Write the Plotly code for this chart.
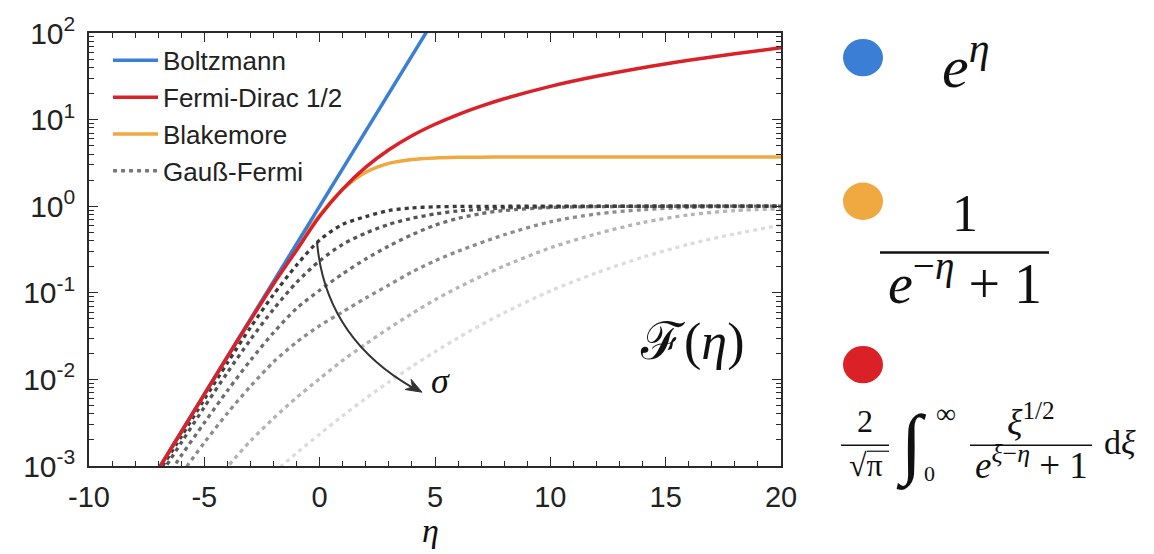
import plotly.graph_objects as go

# ---------------- data ----------------
eta_boltz = [-8, -6, -4, -2, 0, 2, 4, 5]
F_boltz = [0.000335, 0.00248, 0.0183, 0.135, 1.0, 7.39, 54.6, 148.4]

eta_fd = [-8, -7, -6, -5, -4, -3, -2, -1, 0, 1, 2, 3, 4, 5, 6, 7, 8, 10, 12, 14, 16, 18, 20]
F_fd = [0.000335, 0.000911, 0.00247, 0.00671, 0.0182, 0.0484, 0.1262, 0.3107, 0.765, 1.576,
        2.824, 4.488, 6.51, 8.84, 11.45, 14.3, 17.4, 24.2, 31.6, 39.7, 48.4, 57.7, 67.5]

eta_bk = [-8, -7, -6, -5, -4, -3, -2, -1, 0, 1, 2, 3, 4, 5, 6, 7, 8, 10, 12, 15, 20]
F_bk = [0.000335, 0.000911, 0.00248, 0.00674, 0.0183, 0.0493, 0.1315, 0.3435, 0.787, 1.567,
        2.466, 3.127, 3.469, 3.614, 3.667, 3.687, 3.697, 3.702, 3.704, 3.704, 3.704]

eta_gf1 = [-7, -6, -5, -4, -3, -2, -1, 0, 1, 2, 3, 4, 5, 6, 8, 10, 14, 20]
F_gf1 = [0.000832, 0.00219, 0.00589, 0.0155, 0.0398, 0.0955, 0.209, 0.407, 0.617, 0.759,
         0.891, 0.955, 0.984, 0.993, 0.998, 1.0, 1.0, 1.0]

eta_gf2 = [-7, -6, -5, -4, -3, -2, -1, 0, 1, 2, 3, 4, 5, 6, 8, 10, 12, 14, 20]
F_gf2 = [0.000724, 0.00186, 0.00479, 0.0120, 0.0288, 0.0646, 0.132, 0.234, 0.363, 0.490,
         0.617, 0.724, 0.813, 0.881, 0.955, 0.982, 0.993, 0.998, 1.0]

eta_gf3 = [-7, -6, -5, -4, -3, -2, -1, 0, 1, 2, 3, 4, 5, 6, 7, 8, 10, 12, 14, 16, 20]
F_gf3 = [0.000525, 0.00132, 0.00316, 0.00741, 0.0166, 0.0347, 0.0661, 0.107, 0.166, 0.246,
         0.347, 0.468, 0.603, 0.724, 0.822, 0.891, 0.966, 0.989, 0.995, 1.0, 1.0]

eta_gf4 = [-7, -6, -5, -4, -3, -2, -1, 0, 1, 2, 3, 4, 5, 6, 8, 10, 12, 14, 16, 18, 20]
F_gf4 = [0.000355, 0.000813, 0.00186, 0.00407, 0.00832, 0.0159, 0.0269, 0.0417, 0.0603, 0.0871,
         0.123, 0.174, 0.234, 0.302, 0.468, 0.661, 0.813, 0.912, 0.966, 0.989, 1.0]

eta_gf5 = [-5, -4, -3, -2, -1, 0, 1, 2, 3, 4, 5, 6, 7, 8, 10, 12, 14, 16, 18, 20]
F_gf5 = [0.000457, 0.000977, 0.00195, 0.00355, 0.00617, 0.0102, 0.0166, 0.0257, 0.0389, 0.0575,
         0.0832, 0.115, 0.155, 0.204, 0.331, 0.479, 0.646, 0.794, 0.891, 0.933]

eta_gf6 = [-3, -2, -1, 0, 1, 2, 3, 4, 5, 6, 7, 8, 10, 12, 14, 16, 18, 20]
F_gf6 = [0.000479, 0.000832, 0.00141, 0.00234, 0.00380, 0.00603, 0.00933, 0.0141, 0.0209, 0.0302,
         0.0427, 0.0589, 0.105, 0.170, 0.257, 0.363, 0.479, 0.603]

x_ticks = [-10, -5, 0, 5, 10, 15, 20]
y_ticks = [1e-3, 1e-2, 1e-1, 1e0, 1e1, 1e2]
y_ticktext = ["10<sup>-3</sup>", "10<sup>-2</sup>", "10<sup>-1</sup>",
              "10<sup>0</sup>", "10<sup>1</sup>", "10<sup>2</sup>"]
y_minor = [m * 10.0 ** e for e in range(-3, 2) for m in range(2, 10)]

# ---------------- styling ----------------
W, H = 1154, 554
L, R, T, B = 89, 781, 26, 466
BLUE, RED, ORANGE = "#3a7fd5", "#da2128", "#f0a940"
GRAYS = ["#3a3a3a", "#555555", "#6e6e6e", "#8c8c8c", "#b4b4b4", "#dcdcdc"]
AX = "#2a2a2a"
SANS = "Liberation Sans, Arial, sans-serif"
SERIF = "Liberation Serif, Times New Roman, serif"


def px(x):
    return (x - L) / (R - L)


def py(y):
    return (B - y) / (B - T)


fig = go.Figure()

gf = [(eta_gf6, F_gf6), (eta_gf5, F_gf5), (eta_gf4, F_gf4),
      (eta_gf3, F_gf3), (eta_gf2, F_gf2), (eta_gf1, F_gf1)]
for i, (ex, fy) in enumerate(gf):
    col = GRAYS[5 - i]
    fig.add_trace(go.Scatter(
        x=ex, y=fy, mode="lines",
        line=dict(color=col, width=3.3, dash="4px,4px", shape="spline", smoothing=0.8),
        name="Gauß-Fermi", legendgroup="gf", showlegend=False, hoverinfo="skip"))
fig.add_trace(go.Scatter(x=[None], y=[None], mode="lines",
                         line=dict(color="#7a7a7a", width=3.3, dash="4px,4px"),
                         name="Gauß-Fermi", legendgroup="gf", legendrank=4))
fig.add_trace(go.Scatter(x=eta_bk, y=F_bk, mode="lines", name="Blakemore", legendrank=3,
                         line=dict(color=ORANGE, width=3.5, shape="spline", smoothing=0.8)))
fig.add_trace(go.Scatter(x=eta_boltz, y=F_boltz, mode="lines", name="Boltzmann", legendrank=1,
                         line=dict(color=BLUE, width=3.5)))
fig.add_trace(go.Scatter(x=eta_fd, y=F_fd, mode="lines", name="Fermi-Dirac 1/2", legendrank=2,
                         line=dict(color=RED, width=3.5, shape="spline", smoothing=0.8)))

fig.update_xaxes(
    range=[-10, 20], tickmode="array", tickvals=x_ticks, ticktext=[str(v) for v in x_ticks],
    showline=True, linecolor=AX, linewidth=1.5, mirror="ticks",
    ticks="inside", ticklen=9, tickwidth=1.3, tickcolor=AX,
    minor=dict(dtick=1, tick0=0, ticks="inside", ticklen=5, tickwidth=1.1, tickcolor=AX),
    showgrid=False, zeroline=False, ticklabelstandoff=4,
    tickfont=dict(family=SANS, size=29, color="#222"))
fig.update_yaxes(
    type="log", range=[-3, 2], tickmode="array", tickvals=y_ticks, ticktext=y_ticktext,
    showline=True, linecolor=AX, linewidth=1.5, mirror="ticks",
    ticks="inside", ticklen=9, tickwidth=1.3, tickcolor=AX,
    minor=dict(tickmode="array", tickvals=y_minor, ticks="inside", ticklen=5, tickwidth=1.1, tickcolor=AX),
    showgrid=False, zeroline=False, ticklabelstandoff=6,
    tickfont=dict(family=SANS, size=30, color="#222"))

ann = []


def text(x, y, s, size, family=SERIF, color="#111"):
    ann.append(dict(x=px(x), y=py(y), xref="paper", yref="paper", text=s, showarrow=False,
                    xanchor="center", yanchor="middle", font=dict(family=family, size=size, color=color)))


text(430, 532, "<i>η</i>", 34)
text(692, 340, "ℱ(<i>η</i>)", 52)
text(440, 380, "<i>σ</i>", 36)

# right-hand formulas
text(965, 56, "<i>e</i><sup><i>η</i></sup>", 60)
text(965, 209, "1", 52)
text(965, 276, "<i>e</i><sup>−<i>η</i></sup> + 1", 56)
text(865, 420, "2", 32)
text(866, 465, "√π", 32)
text(911, 444, "∫", 78)
text(946, 413, "∞", 28)
text(929, 474, "0", 22)
text(1031, 419, "<i>ξ</i><sup>1/2</sup>", 36)
text(1031, 462, "<i>e</i><sup><i>ξ</i>−<i>η</i></sup> + 1", 37)
text(1120, 442, "d<i>ξ</i>", 34)

shapes = []


def hline(x0, x1, y, w):
    shapes.append(dict(type="line", xref="paper", yref="paper", x0=px(x0), x1=px(x1), y0=py(y), y1=py(y),
                       line=dict(color="#111", width=w)))


hline(880, 1049, 249, 2.5)
hline(841, 889, 445, 1.5)
hline(867, 889, 451, 1.2)
hline(970, 1092, 445, 1.5)

for cx, cy, col in [(863, 51, BLUE), (863, 197, ORANGE), (863, 363, RED)]:
    shapes.append(dict(type="circle", xref="paper", yref="paper",
                       x0=px(cx - 20), x1=px(cx + 20), y0=py(cy - 19), y1=py(cy + 19),
                       fillcolor=col, line=dict(width=0)))

# curved sigma arrow
P0, P1, P2 = (317, 238), (325, 335), (412, 386)
shapes.append(dict(type="path", xref="paper", yref="paper",
                   path=f"M{px(P0[0])},{py(P0[1])} Q{px(P1[0])},{py(P1[1])} {px(P2[0])},{py(P2[1])}",
                   line=dict(color="#333", width=2)))
tip, c1, notch, c2 = (422, 391), (411.1, 377.9), (412.4, 385.6), (405.1, 388.3)
shapes.append(dict(type="path", xref="paper", yref="paper",
                   path=f"M{px(tip[0])},{py(tip[1])} L{px(c1[0])},{py(c1[1])} L{px(notch[0])},{py(notch[1])} "
                        f"L{px(c2[0])},{py(c2[1])} Z",
                   fillcolor="#333", line=dict(color="#333", width=1)))

fig.update_layout(
    width=W, height=H, autosize=False,
    margin=dict(l=L, r=W - R, t=T, b=H - B, pad=0),
    paper_bgcolor="white", plot_bgcolor="white",
    annotations=ann, shapes=shapes,
    legend=dict(x=px(108), y=py(30), xanchor="left", yanchor="top", bgcolor="rgba(0,0,0,0)",
                font=dict(family=SANS, size=26, color="#222"), itemwidth=45, tracegroupgap=0),
    showlegend=True,
)

fig.write_html("out.html")
